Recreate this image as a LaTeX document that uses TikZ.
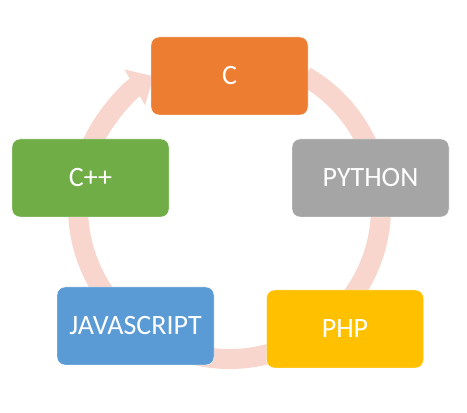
\documentclass[tikz,border=0pt]{standalone}
\usepackage{fontspec}
\setmainfont{Carlito}
\usepackage{xcolor}
\usetikzlibrary{arrows.meta, calc}
\definecolor{ringpink}{HTML}{F8D6CD}
\definecolor{corange}{HTML}{ED7D31}
\definecolor{cgreen}{HTML}{70AD47}
\definecolor{cgrey}{HTML}{A5A5A5}
\definecolor{cblue}{HTML}{5B9BD5}
\definecolor{cgold}{HTML}{FFC000}
\tikzstyle{lang} = [rectangle, rounded corners=8pt, minimum width=157pt, minimum height=78pt, inner sep=0pt, text centered, draw=white, thin, text=white, font=\fontsize{28}{32}\selectfont]
\tikzstyle{ring} = [line width=20pt, ringpink, -{Triangle[width=40pt,length=22pt]}]

\begin{document}
\begin{tikzpicture}[x=1pt, y=1pt]

        \useasboundingbox (0,0) rectangle (467,413);

        % Ring
        \coordinate (mid) at (229.5,205.5);
        \draw [ring] ($(mid)+(60:151.5)$) arc[start angle=60, end angle=-240, radius=151.5];

        % Nodes
        \node (c) [lang, fill=corange] at (229.5,337) {C};
        \node (cpp) [lang, fill=cgreen] at (90.5,235) {C++};
        \node (python) [lang, fill=cgrey] at (370.5,235) {PYTHON};
        \node (js) [lang, fill=cblue] at (135.5,87) {JAVASCRIPT};
        \node (php) [lang, fill=cgold] at (345,84) {PHP};

\end{tikzpicture}
\end{document}
